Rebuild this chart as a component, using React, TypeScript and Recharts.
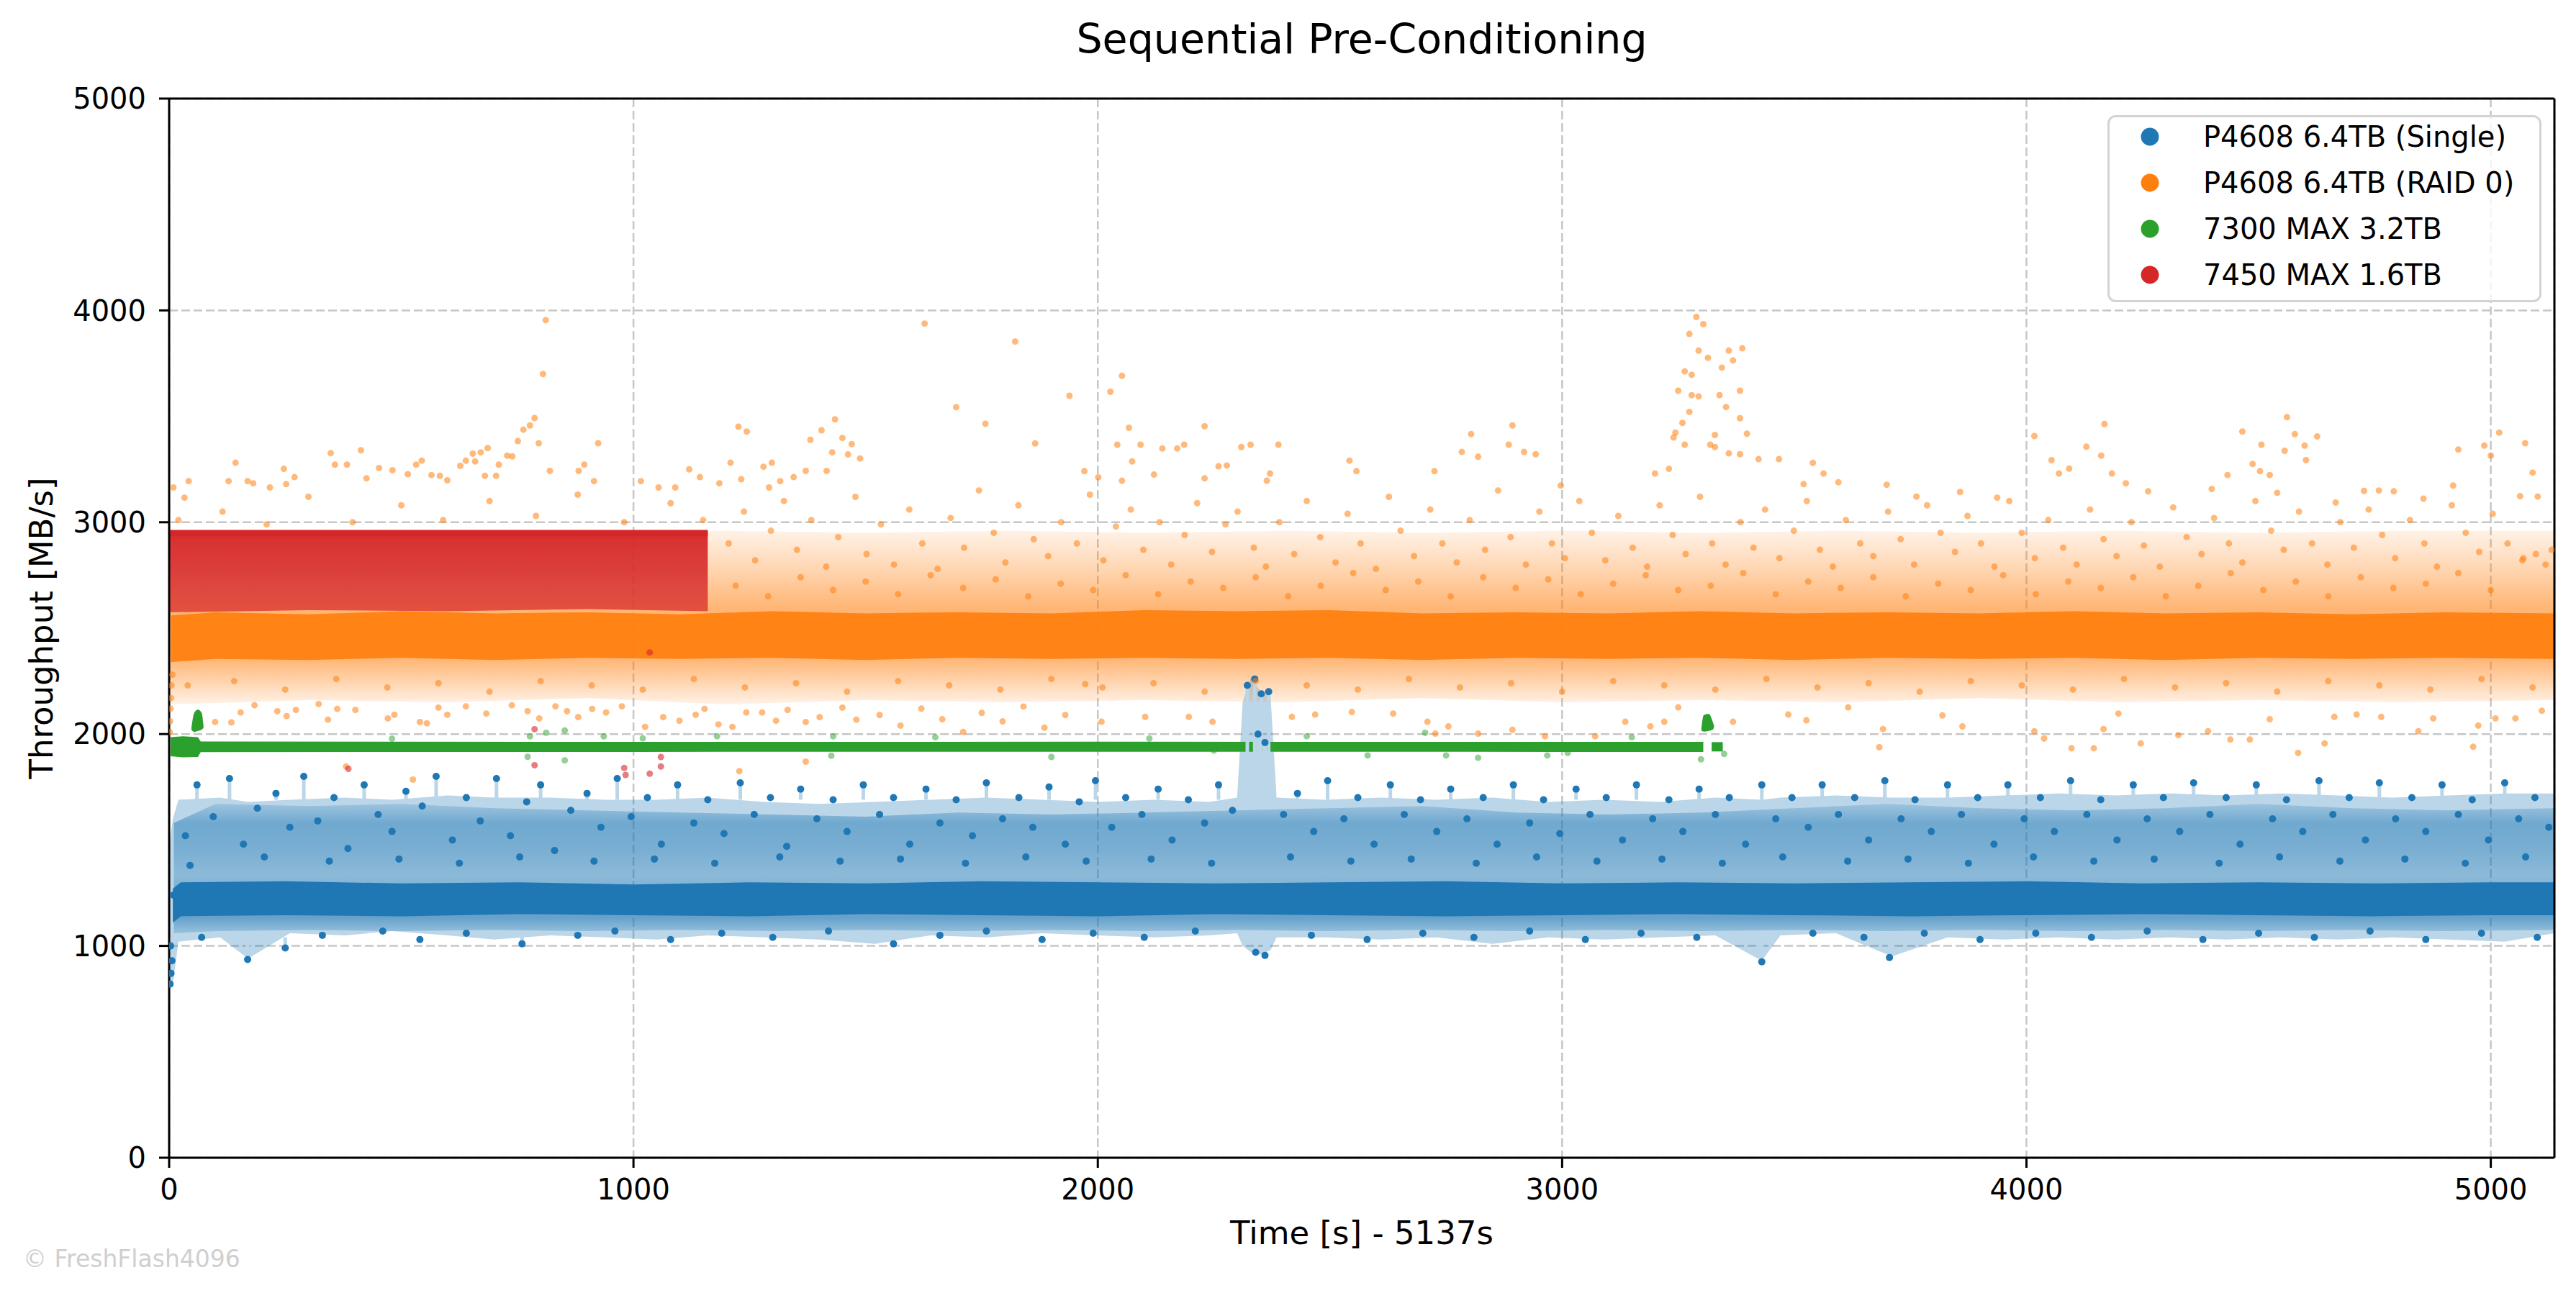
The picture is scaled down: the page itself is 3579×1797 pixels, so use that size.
import React from 'react';
import { ComposedChart, Area, Line, Scatter, XAxis, YAxis, CartesianGrid, Legend, ErrorBar, ReferenceLine } from 'recharts';

const W = 3579;
const H = 1797;
const FONT = '"DejaVu Sans", "Liberation Sans", sans-serif';

const TITLE = 'Sequential Pre-Conditioning';
const X_LABEL = 'Time [s] - 5137s';
const Y_LABEL = 'Throughput [MB/s]';
const WATERMARK = '© FreshFlash4096';
const X_MAX = 5137;
const Y_MAX = 5000;
const X_TICKS = [0, 1000, 2000, 3000, 4000, 5000];
const Y_TICKS = [0, 1000, 2000, 3000, 4000, 5000];

const SERIES_NAMES = ['P4608 6.4TB (Single)', 'P4608 6.4TB (RAID 0)', '7300 MAX 3.2TB', '7450 MAX 1.6TB'];
const SERIES_COLORS = ['#1f77b4', '#ff7f0e', '#2ca02c', '#d62728'];

// ---- P4608 single (blue) ----
// bottom / top of the light blue envelope; outliers beyond it get a thin light line back to it
const BLUE_ENVELOPE = [1040, 1690];
// [time, low, high] of the light blue envelope
const BLUE_FILL: number[][] = [
  [0, 800, 1480], [8, 820, 1600], [20, 1020, 1690], [110, 1040, 1700], [170, 940, 1680], [260, 1060, 1690],
  [380, 1050, 1700], [480, 1070, 1690], [600, 1050, 1710], [700, 1030, 1700], [820, 1050, 1700], [940, 1040, 1690],
  [1050, 1030, 1690], [1160, 1050, 1700], [1280, 1040, 1680], [1400, 1030, 1670], [1520, 1010, 1680], [1640, 1050, 1690],
  [1760, 1040, 1700], [1880, 1060, 1690], [2000, 1050, 1680], [2120, 1040, 1690], [2240, 1050, 1680], [2300, 1060, 1700],
  [2312, 1000, 2150], [2330, 970, 2270], [2350, 960, 2200], [2372, 980, 2180], [2385, 1040, 1700], [2490, 1040, 1690],
  [2610, 1030, 1700], [2730, 1040, 1690], [2850, 1010, 1700], [2970, 1040, 1680], [3090, 1030, 1690], [3210, 1040, 1680],
  [3330, 1050, 1700], [3430, 930, 1690], [3470, 1050, 1700], [3590, 1060, 1710], [3710, 950, 1700], [3830, 1040, 1700],
  [3950, 1030, 1710], [4070, 1040, 1720], [4190, 1030, 1710], [4310, 1040, 1720], [4430, 1030, 1710], [4550, 1040, 1720],
  [4670, 1030, 1710], [4790, 1040, 1700], [4910, 1030, 1710], [5030, 1020, 1720], [5137, 1060, 1720],
];
const BLUE_SPREAD: number[][] = [
  [10, 1060, 1580], [100, 1070, 1670], [300, 1075, 1660], [500, 1070, 1670], [700, 1075, 1650], [900, 1070, 1640],
  [1100, 1075, 1630], [1300, 1070, 1620], [1500, 1075, 1610], [1700, 1070, 1630], [1900, 1075, 1620], [2100, 1070, 1630],
  [2300, 1075, 1640], [2500, 1070, 1650], [2700, 1075, 1660], [2900, 1070, 1630], [3100, 1075, 1620], [3300, 1070, 1630],
  [3500, 1075, 1650], [3700, 1070, 1670], [3900, 1075, 1650], [4100, 1070, 1640], [4300, 1075, 1650], [4500, 1070, 1670],
  [4700, 1075, 1650], [4900, 1070, 1640], [5137, 1075, 1650],
];
const BLUE_CORE: number[][] = [
  [8, 1110, 1270], [25, 1140, 1300], [250, 1145, 1305], [500, 1140, 1295], [750, 1150, 1300], [1000, 1145, 1290],
  [1250, 1140, 1300], [1500, 1150, 1295], [1750, 1145, 1305], [2000, 1140, 1300], [2250, 1150, 1295], [2500, 1145, 1300],
  [2750, 1140, 1305], [3000, 1145, 1295], [3250, 1150, 1300], [3500, 1145, 1295], [3750, 1140, 1300], [4000, 1145, 1305],
  [4250, 1150, 1295], [4500, 1145, 1300], [4750, 1140, 1295], [5000, 1145, 1300], [5137, 1145, 1300],
];
const BLUE_DOTS: number[][] = [
  [2, 820], [4, 870], [6, 930], [3, 1000], [9, 1240], [35, 1520], [60, 1760], [95, 1610], [130, 1790], [160, 1480],
  [190, 1650], [230, 1720], [260, 1560], [290, 1800], [320, 1590], [355, 1700], [385, 1460], [420, 1760], [450, 1620],
  [480, 1540], [510, 1730], [545, 1660], [575, 1800], [610, 1500], [640, 1700], [670, 1590], [705, 1790], [735, 1520],
  [770, 1680], [800, 1760], [830, 1450], [865, 1640], [900, 1720], [930, 1560], [965, 1790], [995, 1610], [1030, 1700],
  [1060, 1480], [1095, 1760], [1130, 1580], [1160, 1690], [1195, 1530], [1230, 1770], [1260, 1620], [1295, 1700],
  [1330, 1470], [1360, 1740], [1395, 1600], [1430, 1690], [1460, 1540], [1495, 1760], [1530, 1620], [1560, 1700],
  [1595, 1480], [1630, 1740], [1660, 1580], [1695, 1690], [1730, 1520], [1760, 1770], [1795, 1600], [1830, 1700],
  [1860, 1560], [1895, 1750], [1930, 1480], [1960, 1680], [1995, 1780], [2030, 1560], [2060, 1700], [2095, 1620],
  [2130, 1740], [2160, 1500], [2195, 1690], [2230, 1580], [2260, 1760], [2290, 1640], [2322, 2230], [2338, 2260],
  [2352, 2190], [2368, 2200], [2345, 2000], [2360, 1960], [2400, 1620], [2430, 1720], [2465, 1540], [2495, 1780],
  [2530, 1600], [2560, 1700], [2595, 1480], [2630, 1760], [2660, 1620], [2695, 1690], [2730, 1540], [2760, 1740],
  [2795, 1600], [2830, 1700], [2860, 1480], [2895, 1760], [2930, 1580], [2960, 1690], [2995, 1530], [3030, 1740],
  [3060, 1620], [3095, 1700], [3130, 1500], [3160, 1760], [3195, 1600], [3230, 1690], [3260, 1540], [3295, 1740],
  [3330, 1620], [3360, 1700], [3395, 1480], [3430, 1760], [3460, 1600], [3495, 1700], [3530, 1560], [3560, 1760],
  [3595, 1620], [3630, 1700], [3660, 1500], [3695, 1780], [3730, 1600], [3760, 1690], [3795, 1540], [3830, 1760],
  [3860, 1620], [3895, 1700], [3930, 1480], [3960, 1760], [3995, 1600], [4030, 1700], [4060, 1540], [4095, 1780],
  [4130, 1620], [4160, 1690], [4195, 1500], [4230, 1760], [4260, 1600], [4295, 1700], [4330, 1540], [4360, 1770],
  [4395, 1620], [4430, 1700], [4460, 1480], [4495, 1760], [4530, 1600], [4560, 1690], [4595, 1540], [4630, 1780],
  [4660, 1620], [4695, 1700], [4730, 1500], [4760, 1770], [4795, 1600], [4830, 1700], [4860, 1540], [4895, 1760],
  [4930, 1620], [4960, 1690], [4995, 1500], [5030, 1770], [5060, 1600], [5095, 1700], [5125, 1560],
  [70, 1040], [169, 936], [250, 990], [330, 1050], [460, 1070], [540, 1030], [640, 1060], [760, 1010], [880, 1050],
  [960, 1070], [1080, 1030], [1190, 1060], [1300, 1040], [1420, 1070], [1560, 1010], [1660, 1050], [1760, 1070],
  [1880, 1030], [1990, 1060], [2100, 1040], [2210, 1070], [2340, 970], [2360, 955], [2460, 1050], [2580, 1030],
  [2700, 1060], [2810, 1040], [2930, 1070], [3050, 1030], [3170, 1060], [3290, 1040], [3430, 925], [3540, 1060],
  [3650, 1040], [3705, 945], [3780, 1060], [3900, 1030], [4020, 1060], [4140, 1040], [4260, 1070], [4380, 1030],
  [4500, 1060], [4620, 1040], [4740, 1070], [4860, 1030], [4980, 1060], [5100, 1040],
  [45, 1380], [205, 1420], [345, 1400], [495, 1410], [625, 1390], [755, 1420], [915, 1400], [1045, 1410], [1175, 1390],
  [1315, 1420], [1445, 1400], [1575, 1410], [1715, 1390], [1845, 1420], [1975, 1400], [2115, 1410], [2245, 1390],
  [2415, 1420], [2545, 1400], [2675, 1410], [2815, 1390], [2945, 1420], [3075, 1400], [3215, 1410], [3345, 1390],
  [3475, 1420], [3615, 1400], [3745, 1410], [3875, 1390], [4015, 1420], [4145, 1400], [4275, 1410], [4415, 1390],
  [4545, 1420], [4675, 1400], [4815, 1410], [4945, 1390], [5075, 1420],
];

// ---- P4608 RAID 0 (orange) ----
const ORANGE_HALO: number[][] = [
  [0, 2140, 2950], [300, 2160, 2950], [600, 2150, 2960], [900, 2170, 2950], [1200, 2140, 2960], [1500, 2160, 2950],
  [1800, 2150, 2960], [2100, 2160, 2950], [2400, 2150, 2960], [2700, 2170, 2950], [3000, 2150, 2960], [3300, 2160, 2950],
  [3600, 2150, 2960], [3900, 2170, 2950], [4200, 2150, 2960], [4500, 2160, 2950], [4800, 2150, 2960], [5137, 2160, 2960],
];
const ORANGE_CORE: number[][] = [
  [4, 2340, 2560], [100, 2355, 2575], [300, 2350, 2565], [500, 2360, 2580], [700, 2350, 2570], [900, 2360, 2575],
  [1100, 2355, 2565], [1300, 2360, 2580], [1500, 2350, 2570], [1700, 2360, 2575], [1900, 2355, 2570], [2100, 2360, 2585],
  [2300, 2355, 2580], [2500, 2360, 2585], [2700, 2350, 2570], [2900, 2360, 2575], [3100, 2355, 2570], [3300, 2360, 2580],
  [3500, 2350, 2570], [3700, 2360, 2575], [3900, 2355, 2570], [4100, 2360, 2580], [4300, 2350, 2570], [4500, 2360, 2575],
  [4700, 2355, 2565], [4900, 2360, 2575], [5137, 2355, 2570],
];
const ORANGE_DOTS: number[][] = [
  [1, 2010], [2, 2060], [3, 2120], [4, 2170], [5, 2230], [7, 2280],
  [99, 2057], [134, 2055], [154, 2102], [184, 2136], [233, 2108], [253, 2085], [273, 2114], [322, 2142], [342, 2068],
  [362, 2119], [381, 1847], [401, 2114], [471, 2074], [485, 2091], [525, 1785], [540, 2057], [555, 2051], [580, 2125],
  [599, 2091], [639, 2131], [683, 2097], [738, 2136], [772, 2108], [797, 2074], [832, 2131], [857, 2108], [881, 2080],
  [911, 2119], [941, 2102], [975, 2131], [1025, 2034], [1064, 2080], [1099, 2063], [1134, 2091], [1153, 2119],
  [1183, 2046], [1213, 2034], [1228, 1825], [1243, 2102], [1277, 2102], [1307, 2063], [1332, 2114], [1371, 2057],
  [1371, 1870], [1401, 2080], [1450, 2125], [1480, 2068], [1530, 2090], [1575, 2040], [1620, 2120], [1665, 2070],
  [1710, 2010], [1750, 2100], [1795, 2060], [1840, 2130], [1885, 2030], [1930, 2090],
  [1973, 2236], [2008, 2058], [2102, 2081], [2196, 2081], [2247, 2058], [2418, 2081], [2468, 2092], [2547, 2104],
  [2636, 2097], [2710, 2058], [2727, 2002], [2755, 2036], [2819, 2002], [2893, 2020], [2963, 1990], [3071, 1990],
  [3136, 2058], [3190, 2036], [3220, 2058], [3250, 2126], [3368, 2058], [3487, 2092],
  [3526, 2065], [3616, 2126], [3683, 1938], [3691, 2024], [3819, 2088], [3862, 2036], [4017, 2013], [4038, 1979],
  [4097, 1933], [4145, 1933], [4166, 2024], [4198, 2097], [4246, 1956], [4327, 1995], [4391, 2013], [4439, 1974],
  [4481, 1974], [4524, 2070], [4585, 1911], [4642, 1956], [4663, 2081], [4711, 2092], [4764, 2081], [4844, 2013],
  [4876, 2074], [4962, 1940], [4973, 2040], [5010, 2074], [5053, 2074], [5110, 2110],
  [9, 3164], [42, 3194], [33, 3116], [143, 3281], [128, 3194], [169, 3194], [181, 3184], [217, 3164], [247, 3252],
  [270, 3213], [252, 3180], [348, 3326], [383, 3272], [357, 3272], [413, 3340], [425, 3207], [452, 3256], [481, 3246],
  [514, 3227], [544, 3291], [532, 3272], [565, 3223], [583, 3219], [599, 3198], [627, 3266], [639, 3291], [654, 3324],
  [671, 3330], [686, 3350], [659, 3287], [680, 3219], [704, 3219], [710, 3272], [728, 3314], [751, 3383], [739, 3311],
  [763, 3437], [777, 3457], [787, 3492], [796, 3373], [805, 3700], [811, 3954], [820, 3242], [882, 3242], [894, 3272],
  [924, 3373], [915, 3194], [1016, 3194], [1054, 3164], [1090, 3164], [1120, 3250], [1143, 3213], [1226, 3451],
  [1244, 3428], [1209, 3281], [1185, 3184], [1232, 3203], [1280, 3262], [1298, 3281], [1292, 3164], [1316, 3194],
  [1345, 3213], [1371, 3242], [1381, 3389], [1416, 3242], [1428, 3330], [1434, 3486], [1450, 3398], [1462, 3320],
  [1470, 3369], [1488, 3301], [1405, 3434], [1627, 3938], [1695, 3543], [1758, 3465], [1822, 3853], [1865, 3372],
  [1939, 3597],
  [2052, 3691], [2027, 3616], [2230, 3453], [2067, 3446], [2804, 3416], [2893, 3457], [3289, 3969], [3304, 3935],
  [3274, 3889], [3294, 3810], [3314, 3776], [3344, 3730], [3368, 3764], [3388, 3821], [3359, 3810], [3264, 3712],
  [3279, 3696], [3250, 3621], [3279, 3600], [3294, 3594], [3339, 3600], [3383, 3621], [3353, 3544], [3274, 3521],
  [3259, 3469], [3383, 3491], [3244, 3423], [3398, 3418], [3329, 3412], [3240, 3400], [3264, 3366], [3319, 3366],
  [3329, 3355], [3359, 3325], [3383, 3321], [3423, 3298], [3467, 3298], [3230, 3252], [3200, 3230],
  [2042, 3366], [2092, 3366], [2139, 3348], [2171, 3348], [2186, 3366], [2309, 3355], [2329, 3366], [2389, 3366],
  [2371, 3230], [2364, 3196], [2542, 3291], [2557, 3241], [2725, 3241], [2784, 3332], [2819, 3309], [2885, 3366],
  [2918, 3332], [2943, 3321], [2997, 3173], [2074, 3287], [2052, 3196], [2260, 3264], [2278, 3268], [2230, 3207],
  [1971, 3241], [2001, 3212], [2121, 3225],
  [4561, 3496], [4168, 3464], [5018, 3423], [4465, 3428], [4578, 3416], [4626, 3405], [4017, 3407], [5074, 3373],
  [4986, 3362], [4506, 3366], [4129, 3357], [4599, 3362], [4556, 3337], [4930, 3343], [4602, 3293], [4161, 3314],
  [5000, 3314], [4054, 3293], [3540, 3280], [3520, 3180], [3563, 3230], [4487, 3275], [4503, 3241], [4524, 3223],
  [4433, 3223], [5090, 3234], [4070, 3230], [4184, 3230], [4092, 3253], [3699, 3177], [3595, 3189], [4262, 3146],
  [4214, 3184], [4399, 3157], [4919, 3173], [5063, 3123], [5101, 3121], [4727, 3148], [4759, 3150], [4791, 3146],
  [3857, 3143], [3937, 3116], [3763, 3121], [4540, 3139], [4666, 3093], [4855, 3111],
  [1205, 2900], [1238, 3050], [1262, 2820], [1296, 2960], [1324, 3100], [1352, 2870], [1383, 3010], [1415, 2790],
  [1441, 2930], [1478, 3120], [1502, 2850], [1533, 2990], [1561, 2800], [1594, 3060], [1622, 2900], [1655, 2780],
  [1683, 3020], [1712, 2880], [1744, 3150], [1776, 2950], [1801, 2810], [1829, 3080], [1862, 2920], [1893, 2840],
  [1921, 3000], [1955, 2900], [1983, 3130], [2012, 2820], [2039, 2980], [2071, 3060], [2098, 2870], [2133, 3000],
  [2158, 2800], [2187, 2940], [2214, 3090], [2246, 2860], [2275, 2990], [2301, 3050], [2336, 2880], [2362, 2790],
  [2391, 3000], [2423, 2850], [2450, 3100], [2479, 2930], [2512, 2810], [2538, 3040], [2566, 2900], [2599, 2780],
  [2627, 3120], [2652, 2960], [2681, 2840], [2716, 3060], [2742, 2900], [2773, 2810], [2801, 3010], [2834, 2870],
  [2862, 3150], [2889, 2930], [2922, 2800], [2951, 3050], [2978, 2900], [3006, 2830], [3037, 3100], [3064, 2950],
  [3093, 2820], [3121, 3030], [3152, 2880], [3183, 2790], [3210, 3080], [3238, 2940], [3266, 2850], [3297, 3120],
  [3323, 2900], [3352, 2800], [3384, 3000], [3412, 2880], [3437, 3060], [3468, 2830], [3499, 2960], [3527, 3100],
  [3555, 2870], [3583, 2790], [3611, 3010], [3642, 2900], [3670, 2840], [3702, 3050], [3729, 2920], [3758, 2800],
  [3786, 3080], [3815, 2950], [3846, 2860], [3873, 3030], [3902, 2900], [3931, 2790], [3963, 3100], [3990, 2950],
  [4018, 2830], [4047, 3010], [4079, 2880], [4108, 2800], [4137, 3060], [4166, 2920], [4194, 2840], [4226, 3000],
  [4253, 2890], [4287, 2790], [4316, 3070], [4345, 2930], [4377, 2850], [4404, 3020], [4436, 2900], [4465, 2810],
  [4493, 3100], [4527, 2960], [4554, 2870], [4587, 3050], [4615, 2900], [4648, 2800], [4676, 3000], [4705, 2880],
  [4737, 3060], [4766, 2940], [4794, 2830], [4826, 3010], [4857, 2900], [4884, 2790], [4916, 3080], [4946, 2950],
  [4975, 2860], [5004, 3040], [5036, 2900], [5068, 2820], [5097, 2850], [5118, 2800], [5131, 2870],
  [20, 3010], [115, 3050], [210, 2990], [300, 3120], [395, 3000], [500, 3080], [590, 3010], [690, 3100], [790, 3030],
  [880, 3130], [980, 3000], [1080, 3090], [1150, 3010],
  [1220, 2700], [1290, 2650], [1360, 2740], [1430, 2680], [1500, 2720], [1570, 2660], [1640, 2750], [1710, 2690],
  [1780, 2730], [1850, 2650], [1920, 2710], [1990, 2680], [2060, 2750], [2130, 2660], [2200, 2720], [2270, 2690],
  [2340, 2740], [2410, 2650], [2480, 2700], [2550, 2760], [2620, 2680], [2690, 2720], [2760, 2650], [2830, 2740],
  [2900, 2690], [2970, 2730], [3040, 2660], [3110, 2710], [3180, 2750], [3250, 2680], [3320, 2700], [3390, 2760],
  [3460, 2660], [3530, 2720], [3600, 2690], [3670, 2740], [3740, 2650], [3810, 2710], [3880, 2680], [3950, 2750],
  [4020, 2660], [4090, 2720], [4160, 2690], [4230, 2740], [4300, 2650], [4370, 2700], [4440, 2760], [4510, 2680],
  [4580, 2720], [4650, 2650], [4720, 2740], [4790, 2690], [4860, 2710], [4930, 2760], [5000, 2680], [5070, 2830],
  [40, 2230], [140, 2250], [250, 2210], [360, 2260], [470, 2220], [580, 2240], [690, 2200], [800, 2250], [910, 2230],
  [1020, 2210], [1130, 2260], [1240, 2220], [1350, 2240], [1460, 2200], [1570, 2250], [1680, 2230], [1790, 2210],
  [1900, 2260], [2010, 2220], [2120, 2240], [2230, 2200], [2340, 2250], [2450, 2230], [2560, 2210], [2670, 2260],
  [2780, 2220], [2890, 2240], [3000, 2200], [3110, 2250], [3220, 2230], [3330, 2210], [3440, 2260], [3550, 2220],
  [3660, 2240], [3770, 2200], [3880, 2250], [3990, 2230], [4100, 2210], [4210, 2260], [4320, 2220], [4430, 2240],
  [4540, 2200], [4650, 2250], [4760, 2230], [4870, 2210], [4980, 2260], [5090, 2220],
];

// ---- 7300 MAX (green) ----
const GREEN_BAND: number[][] = [
  [3, 1895, 1985], [30, 1890, 1990], [62, 1892, 1985], [68, 1915, 1965], [1000, 1916, 1963], [2000, 1917, 1964],
  [3000, 1916, 1963], [3304, 1916, 1963],
];
const GREEN_TAIL: number[][] = [[3322, 1918, 1962], [3346, 1918, 1962]];
const GREEN_BLOB_A: number[][] = [[48, 2020, 2030], [54, 2010, 2100], [62, 2015, 2115], [70, 2020, 2100], [74, 2030, 2040]];
const GREEN_BLOB_B: number[][] = [[3300, 2015, 2030], [3305, 2012, 2090], [3316, 2015, 2095], [3324, 2020, 2060], [3327, 2030, 2040]];
const GREEN_DOTS: number[][] = [
  [480, 1978], [772, 1893], [777, 1989], [812, 2006], [852, 2017], [852, 1876], [936, 1989], [1020, 1980], [1426, 1898],
  [1430, 1989], [2111, 1979], [2250, 1922], [2581, 1899], [2705, 2006], [2750, 1899], [2819, 1888], [2968, 1899],
  [3012, 1911], [3299, 1881], [3349, 1906], [1180, 1990], [1650, 1985], [1900, 1892], [2450, 1990], [3150, 1985],
];

// ---- 7450 MAX (red) ----
const RED_BAND: number[][] = [[0, 2575, 2955], [300, 2585, 2955], [600, 2580, 2955], [900, 2590, 2955], [1160, 2580, 2955]];
const RED_TOP: number[][] = [[0, 2948], [1160, 2948]];
const RED_DOTS: number[][] = [
  [386, 1836], [787, 2023], [787, 1853], [980, 1840], [983, 1807], [1035, 1813], [1059, 1892], [1059, 1847], [1035, 2385],
];

const band = (rows: number[][]) => rows.map(([t, lo, hi]) => ({ t, range: [lo, hi] }));
const pts = (rows: number[][]) => rows.map(([t, v]) => ({ t, v }));
const bluePoints = BLUE_DOTS.map(([t, v]) => ({
  t,
  v,
  err: v > BLUE_ENVELOPE[1] ? [v - BLUE_ENVELOPE[1], 0] : v < BLUE_ENVELOPE[0] ? [0, BLUE_ENVELOPE[0] - v] : [0, 0],
}));

const dotShape = (color: string, r: number, opacity: number) => (p: any) =>
  p.cx == null || p.cy == null ? <g /> : <circle cx={p.cx} cy={p.cy} r={r} fill={color} fillOpacity={opacity} />;
const noShape = () => <g />;

const LegendBox = () => (
  <svg width={603} height={260} style={{ display: 'block' }}>
    <rect x={1.5} y={1.5} width={600} height={257} rx={10} ry={10} fill="#ffffff" fillOpacity={0.8} stroke="#d3d3d3" strokeWidth={3} />
    {SERIES_NAMES.map((name, i) => (
      <g key={name}>
        <circle cx={59} cy={30 + i * 64} r={12.5} fill={SERIES_COLORS[i]} />
        <text x={133} y={30 + i * 64} dominantBaseline="central" fontFamily={FONT} fontSize={40} fill="#000">
          {name}
        </text>
      </g>
    ))}
  </svg>
);

const axisStroke = { stroke: '#000', strokeWidth: 3 };
const common = { dot: false as const, activeDot: false as const, isAnimationActive: false, legendType: 'none' as const };

export default function App() {
  return (
    <div style={{ position: 'absolute', left: 0, top: 0, width: W, height: H, background: '#fff', fontFamily: FONT }}>
      <div style={{ position: 'absolute', left: 235, width: 3314, top: 26, textAlign: 'center', fontSize: 57, lineHeight: '57px', color: '#000', fontFamily: FONT }}>
        {TITLE}
      </div>
      <div style={{ position: 'absolute', left: 32, top: 1733, fontSize: 33, lineHeight: '33px', color: '#cfcfcf', fontFamily: FONT, whiteSpace: 'nowrap' }}>
        {WATERMARK}
      </div>
      <ComposedChart width={W} height={H} margin={{ top: 137, right: 30, bottom: 0, left: 0 }}>
        <defs>
          <linearGradient id="redGrad" x1="0" y1="0" x2="0" y2="1">
            <stop offset="0%" stopColor="#d62728" stopOpacity={0.97} />
            <stop offset="50%" stopColor="#d62728" stopOpacity={0.86} />
            <stop offset="100%" stopColor="#d62728" stopOpacity={0.7} />
          </linearGradient>
          <linearGradient id="orangeHalo" x1="0" y1="0" x2="0" y2="1">
            <stop offset="0%" stopColor="#ff7f0e" stopOpacity={0.1} />
            <stop offset="20%" stopColor="#ff7f0e" stopOpacity={0.3} />
            <stop offset="45%" stopColor="#ff7f0e" stopOpacity={0.58} />
            <stop offset="75%" stopColor="#ff7f0e" stopOpacity={0.55} />
            <stop offset="100%" stopColor="#ff7f0e" stopOpacity={0.1} />
          </linearGradient>
          <linearGradient id="blueSpread" x1="0" y1="0" x2="0" y2="1">
            <stop offset="0%" stopColor="#1f77b4" stopOpacity={0.2} />
            <stop offset="15%" stopColor="#1f77b4" stopOpacity={0.48} />
            <stop offset="35%" stopColor="#1f77b4" stopOpacity={0.42} />
            <stop offset="55%" stopColor="#1f77b4" stopOpacity={0.3} />
            <stop offset="88%" stopColor="#1f77b4" stopOpacity={0.55} />
            <stop offset="100%" stopColor="#1f77b4" stopOpacity={0.22} />
          </linearGradient>
        </defs>

        <XAxis
          dataKey="t"
          type="number"
          domain={[0, X_MAX]}
          ticks={X_TICKS}
          allowDataOverflow
          height={188}
          tickSize={14}
          tickMargin={16}
          axisLine={axisStroke}
          tickLine={axisStroke}
          tick={{ fill: '#000', fontSize: 40, fontFamily: FONT }}
          label={{
            content: (p: any) => {
              const vb = p.viewBox || { x: 235, y: 1609, width: 3314, height: 188 };
              return (
                <text x={vb.x + vb.width / 2} y={vb.y + 104} textAnchor="middle" dominantBaseline="central" fontFamily={FONT} fontSize={45} fill="#000">
                  {X_LABEL}
                </text>
              );
            },
          }}
        />
        <YAxis
          type="number"
          domain={[0, Y_MAX]}
          ticks={Y_TICKS}
          allowDataOverflow
          width={235}
          tickSize={14}
          tickMargin={18}
          axisLine={axisStroke}
          tickLine={axisStroke}
          tick={{ fill: '#000', fontSize: 40, fontFamily: FONT }}
          label={{
            content: (p: any) => {
              const vb = p.viewBox || { x: 0, y: 137, width: 235, height: 1472 };
              const cx = vb.x + 57;
              const cy = vb.y + vb.height / 2;
              return (
                <text x={cx} y={cy} transform={`rotate(-90, ${cx}, ${cy})`} textAnchor="middle" dominantBaseline="central" fontFamily={FONT} fontSize={45} fill="#000">
                  {Y_LABEL}
                </text>
              );
            },
          }}
        />

        <Area data={band(BLUE_FILL)} dataKey="range" type="linear" stroke="none" fill="#1f77b4" fillOpacity={0.3} {...common} />
        <Scatter data={bluePoints} dataKey="v" shape={noShape} isAnimationActive={false} legendType="none">
          <ErrorBar dataKey="err" direction="y" width={0} stroke="#bbd6e9" strokeWidth={5} />
        </Scatter>
        <Area data={band(BLUE_SPREAD)} dataKey="range" type="linear" stroke="none" fill="url(#blueSpread)" fillOpacity={1} {...common} />
        <Scatter data={bluePoints} dataKey="v" shape={dotShape('#1f77b4', 5, 1)} isAnimationActive={false} legendType="none" />
        <Area data={band(BLUE_CORE)} dataKey="range" type="linear" stroke="none" fill="#1f77b4" fillOpacity={1} {...common} />

        <Area data={band(ORANGE_HALO)} dataKey="range" type="linear" stroke="none" fill="url(#orangeHalo)" fillOpacity={1} {...common} />
        <Area data={band(ORANGE_CORE)} dataKey="range" type="linear" stroke="none" fill="#ff7f0e" fillOpacity={0.93} {...common} />
        <Scatter data={pts(ORANGE_DOTS)} dataKey="v" shape={dotShape('#ff7f0e', 4.5, 0.55)} isAnimationActive={false} legendType="none" />

        <Area data={band(GREEN_BAND)} dataKey="range" type="linear" stroke="none" fill="#2ca02c" fillOpacity={1} {...common} />
        <Area data={band(GREEN_TAIL)} dataKey="range" type="linear" stroke="none" fill="#2ca02c" fillOpacity={1} {...common} />
        <Area data={band(GREEN_BLOB_A)} dataKey="range" type="monotone" stroke="none" fill="#2ca02c" fillOpacity={1} {...common} />
        <Area data={band(GREEN_BLOB_B)} dataKey="range" type="monotone" stroke="none" fill="#2ca02c" fillOpacity={1} {...common} />
        <Scatter data={pts(GREEN_DOTS)} dataKey="v" shape={dotShape('#2ca02c', 4.5, 0.5)} isAnimationActive={false} legendType="none" />

        <Area data={band(RED_BAND)} dataKey="range" type="linear" stroke="none" fill="url(#redGrad)" fillOpacity={1} {...common} />
        <Line data={pts(RED_TOP)} dataKey="v" type="linear" stroke="#d62728" strokeWidth={9} {...common} />
        <Scatter data={pts(RED_DOTS)} dataKey="v" shape={dotShape('#d62728', 4.5, 0.6)} isAnimationActive={false} legendType="none" />

        <CartesianGrid stroke="#bdbdbd" strokeOpacity={0.85} strokeDasharray="12 5" strokeWidth={2.5} />
        <ReferenceLine y={Y_MAX} stroke="#000" strokeWidth={3} />
        <ReferenceLine x={X_MAX} stroke="#000" strokeWidth={3} />

        <Legend
          verticalAlign="middle"
          align="center"
          content={() => <LegendBox />}
          wrapperStyle={{ position: 'absolute', left: 2928, top: 160, width: 603, height: 260 }}
        />
      </ComposedChart>
    </div>
  );
}
